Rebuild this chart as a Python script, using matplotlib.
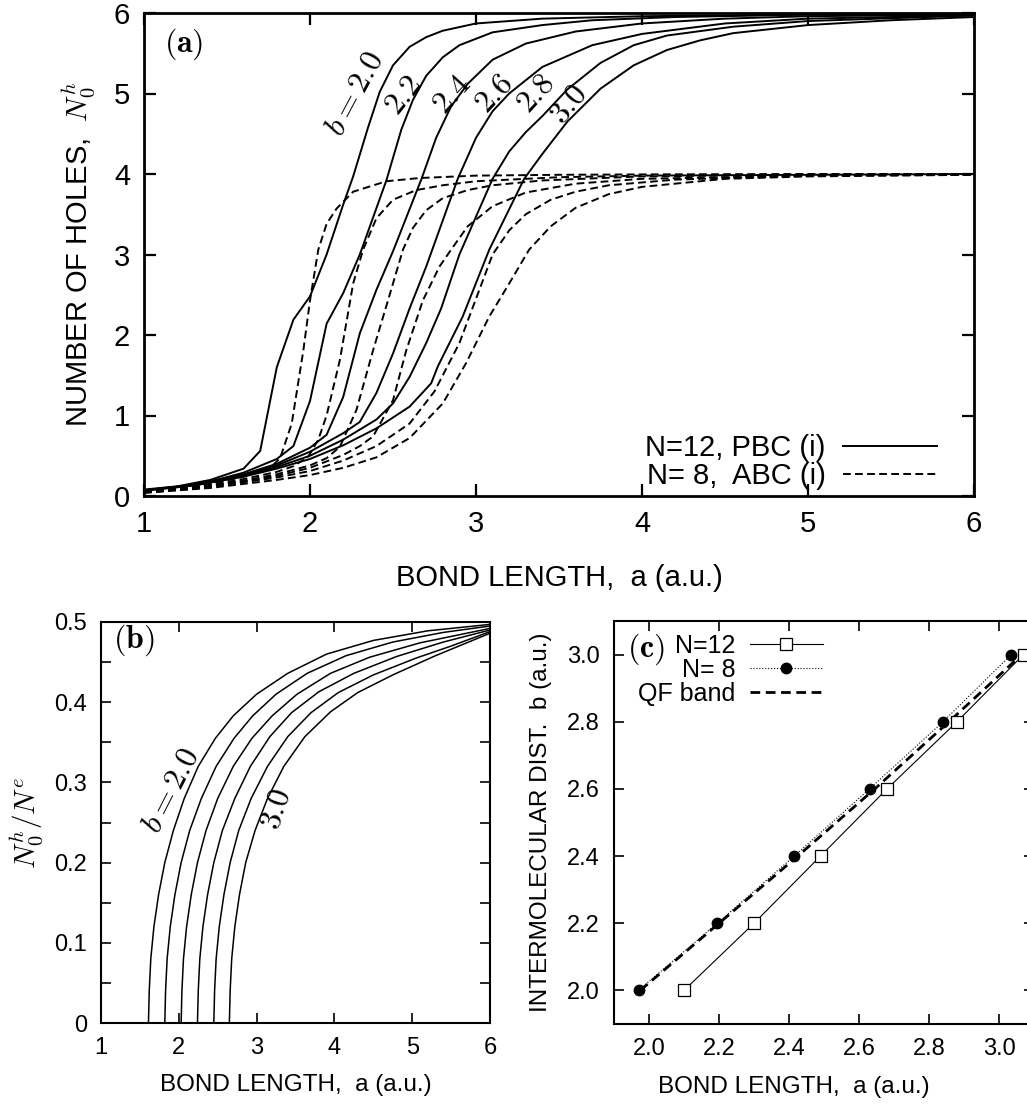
import matplotlib
matplotlib.use('Agg')
import matplotlib.pyplot as plt
from matplotlib.ticker import MultipleLocator

plt.rcParams['font.family'] = ['Liberation Sans', 'DejaVu Sans']
plt.rcParams['mathtext.fontset'] = 'cm'

# ---- (a) number of holes, N=12 PBC (solid) and N=8 ABC (dashed) ----
a_pbc_20 = [1.0, 1.2, 1.4, 1.6, 1.70, 1.80, 1.90, 2.0, 2.1, 2.2, 2.26, 2.35, 2.42, 2.5, 2.6, 2.7, 2.8, 3.0, 3.4, 4.0, 5.0, 6.0]
n_pbc_20 = [0.08, 0.12, 0.20, 0.34, 0.56, 1.60, 2.19, 2.48, 3.00, 3.62, 3.97, 4.58, 5.02, 5.35, 5.58, 5.70, 5.78, 5.87, 5.93, 5.96, 5.98, 5.99]
a_pbc_22 = [1.0, 1.2, 1.4, 1.6, 1.8, 1.9, 2.0, 2.1, 2.2, 2.3, 2.46, 2.55, 2.62, 2.7, 2.8, 2.9, 3.1, 3.4, 3.7, 4.2, 5.0, 6.0]
n_pbc_22 = [0.07, 0.11, 0.18, 0.29, 0.46, 0.62, 1.18, 2.14, 2.52, 3.00, 3.92, 4.55, 4.92, 5.22, 5.45, 5.60, 5.76, 5.85, 5.91, 5.95, 5.98, 5.99]
a_pbc_24 = [1.0, 1.3, 1.6, 1.8, 2.0, 2.1, 2.2, 2.3, 2.4, 2.5, 2.67, 2.76, 2.85, 2.95, 3.1, 3.3, 3.6, 4.0, 4.5, 5.0, 6.0]
n_pbc_24 = [0.07, 0.14, 0.27, 0.40, 0.60, 0.76, 1.23, 2.02, 2.56, 3.04, 3.93, 4.45, 4.84, 5.12, 5.42, 5.62, 5.77, 5.87, 5.93, 5.96, 5.98]
a_pbc_26 = [1.0, 1.3, 1.6, 1.8, 2.0, 2.2, 2.3, 2.4, 2.5, 2.6, 2.7, 2.89, 3.0, 3.1, 3.2, 3.4, 3.7, 4.0, 4.5, 5.0, 6.0]
n_pbc_26 = [0.07, 0.14, 0.26, 0.38, 0.55, 0.78, 0.92, 1.28, 1.77, 2.33, 2.85, 3.94, 4.45, 4.78, 5.00, 5.33, 5.60, 5.74, 5.87, 5.93, 5.97]
a_pbc_28 = [1.0, 1.3, 1.6, 1.8, 2.0, 2.2, 2.4, 2.5, 2.6, 2.7, 2.79, 2.9, 3.1, 3.2, 3.3, 3.4, 3.55, 3.75, 3.95, 4.15, 4.55, 5.0, 6.0]
n_pbc_28 = [0.07, 0.13, 0.25, 0.36, 0.50, 0.70, 0.95, 1.15, 1.48, 1.90, 2.33, 3.00, 3.94, 4.28, 4.52, 4.72, 5.05, 5.38, 5.60, 5.72, 5.83, 5.90, 5.97]
a_pbc_30 = [1.0, 1.3, 1.6, 1.8, 2.0, 2.2, 2.4, 2.6, 2.73, 2.77, 2.92, 3.08, 3.29, 3.4, 3.55, 3.75, 3.95, 4.15, 4.35, 4.55, 5.0, 5.5, 6.0]
n_pbc_30 = [0.07, 0.13, 0.24, 0.34, 0.46, 0.63, 0.84, 1.11, 1.40, 1.61, 2.23, 3.06, 3.94, 4.25, 4.65, 5.06, 5.35, 5.54, 5.66, 5.75, 5.85, 5.91, 5.95]

a_abc_20 = [1.0, 1.2, 1.4, 1.6, 1.7, 1.78, 1.82, 1.89, 1.96, 2.0, 2.05, 2.1, 2.16, 2.26, 2.46, 2.66, 3.0, 3.5, 4.0, 5.0, 6.0]
n_abc_20 = [0.05, 0.09, 0.15, 0.24, 0.31, 0.39, 0.47, 0.90, 1.81, 2.43, 3.06, 3.38, 3.57, 3.78, 3.91, 3.95, 3.98, 3.99, 3.995, 4.0, 4.0]
a_abc_22 = [1.0, 1.3, 1.6, 1.8, 1.9, 1.99, 2.05, 2.1, 2.18, 2.26, 2.32, 2.4, 2.5, 2.64, 2.8, 3.0, 3.5, 4.0, 5.0, 6.0]
n_abc_22 = [0.05, 0.11, 0.21, 0.30, 0.37, 0.49, 0.70, 1.00, 1.69, 2.64, 3.06, 3.45, 3.68, 3.80, 3.86, 3.91, 3.96, 3.98, 3.99, 4.0]
a_abc_24 = [1.0, 1.3, 1.6, 1.8, 2.0, 2.1, 2.18, 2.28, 2.38, 2.47, 2.56, 2.62, 2.7, 2.8, 2.95, 3.1, 3.4, 4.0, 5.0, 6.0]
n_abc_24 = [0.05, 0.10, 0.19, 0.27, 0.38, 0.47, 0.61, 1.07, 1.81, 2.43, 3.06, 3.33, 3.55, 3.70, 3.80, 3.86, 3.92, 3.97, 3.99, 4.0]
a_abc_26 = [1.0, 1.3, 1.6, 1.8, 2.0, 2.2, 2.3, 2.38, 2.5, 2.58, 2.68, 2.78, 2.85, 2.95, 3.1, 3.3, 3.6, 4.0, 5.0, 6.0]
n_abc_26 = [0.05, 0.10, 0.18, 0.25, 0.35, 0.51, 0.62, 0.74, 1.19, 1.81, 2.43, 2.85, 3.06, 3.35, 3.60, 3.77, 3.88, 3.94, 3.98, 3.995]
a_abc_28 = [1.0, 1.3, 1.6, 1.8, 2.0, 2.2, 2.4, 2.6, 2.75, 2.9, 3.0, 3.1, 3.2, 3.3, 3.45, 3.6, 3.8, 4.2, 5.0, 6.0]
n_abc_28 = [0.04, 0.09, 0.17, 0.23, 0.31, 0.44, 0.62, 0.90, 1.30, 1.90, 2.45, 3.00, 3.30, 3.50, 3.68, 3.78, 3.86, 3.93, 3.98, 3.99]
a_abc_30 = [1.0, 1.4, 1.8, 2.0, 2.2, 2.4, 2.6, 2.8, 2.94, 3.08, 3.2, 3.32, 3.45, 3.6, 3.8, 4.0, 4.5, 5.0, 6.0]
n_abc_30 = [0.04, 0.10, 0.20, 0.26, 0.35, 0.48, 0.72, 1.15, 1.65, 2.23, 2.64, 3.06, 3.35, 3.58, 3.75, 3.84, 3.94, 3.97, 3.99]

pbc_curves = [(a_pbc_20, n_pbc_20), (a_pbc_22, n_pbc_22), (a_pbc_24, n_pbc_24),
              (a_pbc_26, n_pbc_26), (a_pbc_28, n_pbc_28), (a_pbc_30, n_pbc_30)]
abc_curves = [(a_abc_20, n_abc_20), (a_abc_22, n_abc_22), (a_abc_24, n_abc_24),
              (a_abc_26, n_abc_26), (a_abc_28, n_abc_28), (a_abc_30, n_abc_30)]

b_labels_a = ['$b=2.0$', '$2.2$', '$2.4$', '$2.6$', '$2.8$', '$3.0$']
b_label_pos_a = [(2.27, 5.00), (2.57, 4.97), (2.86, 4.99), (3.11, 5.00), (3.36, 5.00), (3.56, 4.86)]
b_label_rot_a = [62, 51, 48, 47, 48, 51]

# ---- (b) N0h / Ne ----
a_rat_20 = [1.61, 1.62, 1.64, 1.68, 1.74, 1.82, 1.93, 2.07, 2.25, 2.47, 2.70, 3.0, 3.4, 3.9, 4.5, 5.2, 6.0]
v_rat_20 = [0.0, 0.04, 0.08, 0.12, 0.16, 0.20, 0.24, 0.28, 0.32, 0.355, 0.383, 0.410, 0.436, 0.460, 0.477, 0.489, 0.497]
a_rat_22 = [1.82, 1.83, 1.85, 1.89, 1.95, 2.03, 2.14, 2.29, 2.48, 2.71, 2.95, 3.25, 3.65, 4.15, 4.75, 5.4, 6.0]
v_rat_22 = [0.0, 0.04, 0.08, 0.12, 0.16, 0.20, 0.24, 0.28, 0.32, 0.355, 0.383, 0.410, 0.436, 0.458, 0.475, 0.487, 0.495]
a_rat_24 = [2.03, 2.04, 2.06, 2.10, 2.16, 2.24, 2.35, 2.50, 2.70, 2.94, 3.20, 3.52, 3.95, 4.45, 5.1, 6.0]
v_rat_24 = [0.0, 0.04, 0.08, 0.12, 0.16, 0.20, 0.24, 0.28, 0.32, 0.355, 0.383, 0.410, 0.436, 0.456, 0.474, 0.492]
a_rat_26 = [2.24, 2.25, 2.27, 2.31, 2.37, 2.45, 2.56, 2.72, 2.92, 3.17, 3.45, 3.80, 4.25, 4.8, 5.4, 6.0]
v_rat_26 = [0.0, 0.04, 0.08, 0.12, 0.16, 0.20, 0.24, 0.28, 0.32, 0.357, 0.387, 0.413, 0.436, 0.457, 0.475, 0.490]
a_rat_28 = [2.45, 2.46, 2.48, 2.52, 2.58, 2.66, 2.77, 2.93, 3.14, 3.40, 3.70, 4.05, 4.5, 5.05, 5.5, 6.0]
v_rat_28 = [0.0, 0.04, 0.08, 0.12, 0.16, 0.20, 0.24, 0.28, 0.32, 0.357, 0.387, 0.412, 0.434, 0.455, 0.470, 0.488]
a_rat_30 = [2.65, 2.66, 2.68, 2.72, 2.78, 2.86, 2.98, 3.14, 3.35, 3.62, 3.95, 4.3, 4.75, 5.3, 6.0]
v_rat_30 = [0.0, 0.04, 0.08, 0.12, 0.16, 0.20, 0.24, 0.28, 0.32, 0.357, 0.388, 0.412, 0.434, 0.458, 0.486]

ratio_curves = [(a_rat_20, v_rat_20), (a_rat_22, v_rat_22), (a_rat_24, v_rat_24),
                (a_rat_26, v_rat_26), (a_rat_28, v_rat_28), (a_rat_30, v_rat_30)]
b_ticks = [0, 0.1, 0.2, 0.3, 0.4, 0.5]
b_ticklabels = ['0', '0.1', '0.2', '0.3', '0.4', '0.5']

# ---- (c) crossing points ----
b_dist = [2.0, 2.2, 2.4, 2.6, 2.8, 3.0]
a_cross_12 = [2.10, 2.30, 2.49, 2.68, 2.88, 3.07]
a_cross_8 = [1.97, 2.195, 2.415, 2.63, 2.84, 3.035]
a_qf_band = [1.975, 2.20, 2.425, 2.645, 2.857, 3.065]
c_ticks = [2.0, 2.2, 2.4, 2.6, 2.8, 3.0]

W, H = 1027, 1104


def box(left, top, right, bottom):
    return [left / W, 1 - bottom / H, (right - left) / W, (bottom - top) / H]


def style_axes(ax, size, lw, ticklen):
    for s in ax.spines.values():
        s.set_linewidth(lw)
    ax.tick_params(which='both', direction='in', top=True, right=True,
                   labelsize=size, width=lw * 0.8, pad=10)
    ax.tick_params(which='major', length=ticklen)
    ax.tick_params(which='minor', length=ticklen)


fig = plt.figure(figsize=(W / 100, H / 100), dpi=100)
ax_a = fig.add_axes(box(144, 13, 974, 496))
ax_b = fig.add_axes(box(101, 622, 490, 1023))
ax_c = fig.add_axes(box(614, 621, 1034, 1024))

# panel (a)
for i, (a, n) in enumerate(pbc_curves):
    ax_a.plot(a, n, color='black', lw=1.4, label='N=12, PBC (i)' if i == 0 else None)
for i, (a, n) in enumerate(abc_curves):
    ax_a.plot(a, n, color='black', lw=1.4, ls=(0, (4, 2.2)),
              label='N= 8,  ABC (i)' if i == 0 else None)
for txt, (x, y), rot in zip(b_labels_a, b_label_pos_a, b_label_rot_a):
    ax_a.text(x, y, txt, rotation=rot, ha='center', va='center', fontsize=23)
ax_a.text(0.024, 0.935, r'$(\mathbf{a})$', transform=ax_a.transAxes, fontsize=23, va='center')
ax_a.set_xlim(1, 6)
ax_a.set_ylim(0, 6)
ax_a.set_xticks([1, 2, 3, 4, 5, 6])
ax_a.set_yticks([0, 1, 2, 3, 4, 5, 6])
style_axes(ax_a, 21, 2.0, 8.5)
ax_a.set_xlabel('BOND LENGTH,  a (a.u.)', fontsize=21)
ax_a.set_ylabel('NUMBER OF HOLES,  $N_0^h$', fontsize=21)
ax_a.xaxis.set_label_coords(0.5, -0.14)
ax_a.yaxis.set_label_coords(-0.057, 0.5)
ax_a.legend(loc='lower right', bbox_to_anchor=(0.955, 0.012), markerfirst=False,
            frameon=False, fontsize=21, handlelength=3.2, labelspacing=0.0,
            borderpad=0, borderaxespad=0, handletextpad=0.6)

# panel (b)
for a, v in ratio_curves:
    ax_b.plot(a, v, color='black', lw=1.1)
ax_b.text(1.91, 0.29, '$b=2.0$', rotation=63, ha='center', va='center', fontsize=23)
ax_b.text(3.26, 0.267, '$3.0$', rotation=72, ha='center', va='center', fontsize=23)
ax_b.text(0.03, 0.955, r'$(\mathbf{b})$', transform=ax_b.transAxes, fontsize=23, va='center')
ax_b.set_xlim(1, 6)
ax_b.set_ylim(0, 0.5)
ax_b.set_xticks([1, 2, 3, 4, 5, 6])
ax_b.set_yticks(b_ticks)
ax_b.set_yticklabels(b_ticklabels)
ax_b.yaxis.set_minor_locator(MultipleLocator(0.05))
style_axes(ax_b, 17, 1.5, 7)
ax_b.set_xlabel('BOND LENGTH,  a (a.u.)', fontsize=17.5)
ax_b.set_ylabel('$N_0^h/N^e$', fontsize=21)
ax_b.xaxis.set_label_coords(0.5, -0.128)
ax_b.yaxis.set_label_coords(-0.145, 0.5)

# panel (c)
ax_c.plot(a_qf_band, b_dist, color='black', lw=2.0, ls=(0, (3.5, 2)), label='QF band', zorder=2)
ax_c.plot(a_cross_12, b_dist, color='black', lw=0.8, marker='s', ms=8,
          mfc='white', mec='black', mew=0.9, label='N=12', zorder=3)
ax_c.plot(a_cross_8, b_dist, color='black', lw=0.8, ls=':', marker='o', ms=7.5,
          mfc='black', mec='black', label='N= 8', zorder=3)
ax_c.text(0.031, 0.93, r'$(\mathbf{c})$', transform=ax_c.transAxes, fontsize=23, va='center')
handles, labels = ax_c.get_legend_handles_labels()
order = [1, 2, 0]
ax_c.legend([handles[i] for i in order], [labels[i] for i in order],
            loc='upper left', bbox_to_anchor=(0.057, 0.968), markerfirst=False,
            frameon=False, fontsize=18, handlelength=2.9, labelspacing=0.0,
            borderpad=0, borderaxespad=0, handletextpad=0.6, numpoints=1)
ax_c.set_xlim(1.9, 3.1)
ax_c.set_ylim(1.9, 3.1)
ax_c.set_xticks(c_ticks)
ax_c.set_yticks(c_ticks)
ax_c.set_xticklabels(['%.1f' % t for t in c_ticks])
ax_c.set_yticklabels(['%.1f' % t for t in c_ticks])
style_axes(ax_c, 17, 1.5, 7)
ax_c.set_xlabel('BOND LENGTH,  a (a.u.)', fontsize=17.5)
ax_c.set_ylabel('INTERMOLECULAR DIST.  b (a.u.)', fontsize=17.5)
ax_c.xaxis.set_label_coords((794 - 614) / 420, -0.128)
ax_c.yaxis.set_label_coords(-0.148, 0.5)

fig.savefig('out.png', dpi=100)
